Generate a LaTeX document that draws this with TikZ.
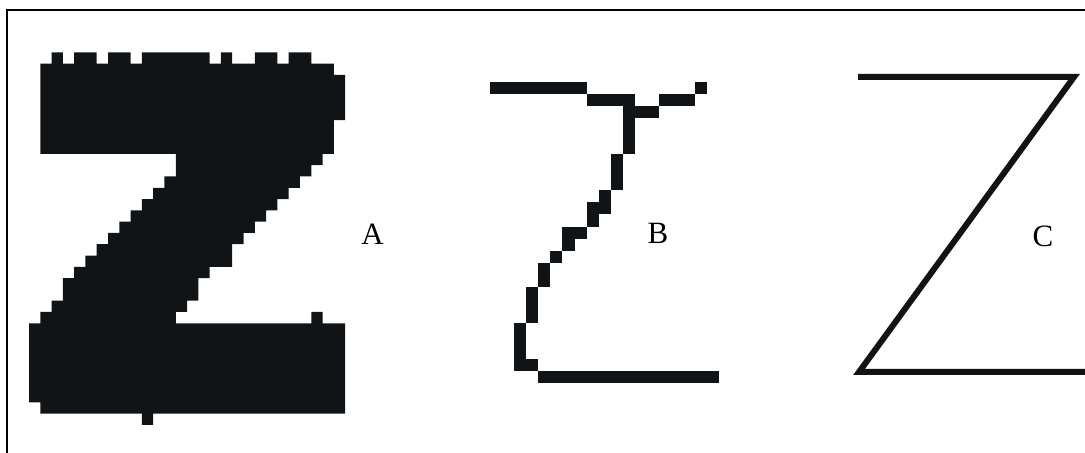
\documentclass[tikz,border=0pt]{standalone}
\usepackage{fontspec}
\setmainfont{Liberation Serif}
\usepackage{tikz}
\definecolor{ink}{HTML}{111417}
\tikzset{
  lab/.style={inner sep=0pt,font=\fontsize{15.5}{18}\selectfont},
  frame/.style={draw=black,line width=1.2pt},
  stroke/.style={draw=ink,line width=3pt,line join=miter}
}

\begin{document}
\begin{tikzpicture}[x=0.5pt,y=-0.5pt]
\useasboundingbox (0,0) rectangle (1085,453);
\clip (0,0) rectangle (1085,453);
\draw[frame] (7,10) rectangle (1100,470);
\begin{scope}[shift={(29,52.3)},x=5.645pt,y=-5.645pt]
\fill[ink] (1,1) -- (2,1) -- (2,0) -- (3,0) -- (3,1) -- (4,1) -- (4,0) -- (6,0) -- (6,1) -- (7,1) -- (7,0) -- (9,0) -- (9,1)
 -- (10,1) -- (10,0) -- (16,0) -- (16,1) -- (17,1) -- (17,0) -- (18,0) -- (18,1) -- (20,1) -- (20,0) -- (22,0) -- (22,1)
 -- (23,1) -- (23,0) -- (25,0) -- (25,1) -- (27,1) -- (27,2) -- (28,2) -- (28,6) -- (27,6) -- (27,9) -- (26,9) -- (26,10)
 -- (25,10) -- (25,11) -- (24,11) -- (24,12) -- (23,12) -- (23,13) -- (22,13) -- (22,14) -- (21,14) -- (21,15) -- (20,15)
 -- (20,16) -- (19,16) -- (19,17) -- (18,17) -- (18,19) -- (16,19) -- (16,20) -- (15,20) -- (15,22) -- (14,22) -- (14,23)
 -- (13,23) -- (13,24) -- (25,24) -- (25,23) -- (26,23) -- (26,24) -- (28,24) -- (28,32) -- (11,32) -- (11,33) -- (10,33)
 -- (10,32) -- (1,32) -- (1,31) -- (0,31) -- (0,24) -- (1,24) -- (1,23) -- (2,23) -- (2,22) -- (3,22) -- (3,20) -- (4,20)
 -- (4,19) -- (5,19) -- (5,18) -- (6,18) -- (6,17) -- (7,17) -- (7,16) -- (8,16) -- (8,15) -- (9,15) -- (9,14) -- (10,14)
 -- (10,13) -- (11,13) -- (11,12) -- (12,12) -- (12,11) -- (13,11) -- (13,9) -- (1,9) -- cycle;
\end{scope}
\begin{scope}[shift={(490,81.7)},x=6.035pt,y=-6.035pt]
\foreach \xa/\ya/\xb/\yb in {0/0/8/1,8/1/12/2,11/1/12/6,12/2/14/3,14/1/17/2,17/0/18/1,10/6/11/9,9/9/10/11,8/10/9/12,
  6/12/8/13,6/13/7/14,5/14/6/15,4/15/5/17,3/17/4/20,2/20/3/24,3/23/4/24,4/24/19/25}
  \fill[ink] (\xa,\ya) rectangle (\xb,\yb);
\end{scope}
\draw[stroke] (858,77) -- (1074,77) -- (859,372) -- (1100,372);
\node[lab] (labA) at (372.5,234) {A};
\node[lab] (labB) at (658,233) {B};
\node[lab] (labC) at (1043,236) {C};
\end{tikzpicture}
\end{document}
